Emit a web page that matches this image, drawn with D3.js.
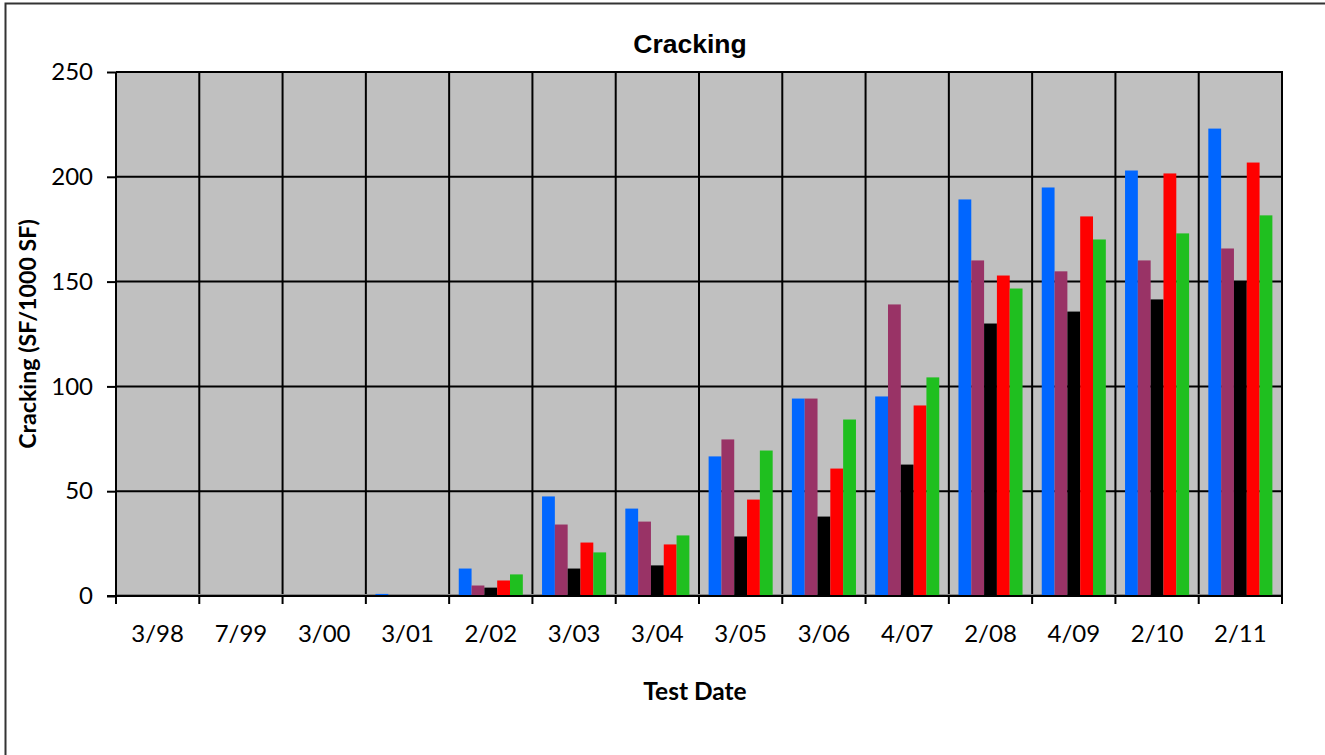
<!DOCTYPE html>
<html>
<head>
<meta charset="utf-8">
<script src="https://cdn.jsdelivr.net/npm/d3@7"></script>
<style>
  html, body { margin: 0; padding: 0; background: #fff; }
  svg { display: block; }
</style>
</head>
<body>
<script>
// ---- data ----
const categories = ["3/98", "7/99", "3/00", "3/01", "2/02", "3/03", "3/04", "3/05", "3/06", "4/07", "2/08", "4/09", "2/10", "2/11"];
const seriesNames = ["Series 1", "Series 2", "Series 3", "Series 4", "Series 5"];
const series1 = [0, 0, 0, 1.0, 13.1, 47.5, 41.7, 66.6, 94.2, 95.2, 189.2, 194.9, 203.0, 223.0];
const series2 = [0, 0, 0, 0, 5.0, 34.1, 35.5, 74.7, 94.2, 139.1, 160.1, 154.9, 160.1, 165.8];
const series3 = [0, 0, 0, 0, 4.0, 13.1, 14.6, 28.4, 37.9, 62.7, 130.0, 135.7, 141.5, 150.0];
const series4 = [0, 0, 0, 0, 7.4, 25.5, 24.6, 46.0, 60.8, 90.9, 152.9, 181.1, 201.6, 206.8];
const series5 = [0, 0, 0, 0, 10.3, 20.8, 28.9, 69.4, 84.2, 104.3, 146.7, 170.1, 173.0, 181.6];
const yTicks = [0, 50, 100, 150, 200, 250];
const colors = ["#0066FF", "#993366", "#000000", "#FF0000", "#1FBF1F"];
const chartTitle = "Cracking";
const xTitle = "Test Date";
const yTitle = "Cracking (SF/1000 SF)";

const allSeries = [series1, series2, series3, series4, series5];

// ---- layout ----
const W = 1325, H = 755;
const plot = { left: 116, right: 1282, top: 72, bottom: 596 };

const svg = d3.select("body").append("svg").attr("width", W).attr("height", H);

// outer chart border
svg.append("rect")
  .attr("x", 5.5).attr("y", 3.5)
  .attr("width", W + 20).attr("height", H + 20)
  .attr("fill", "#fff").attr("stroke", "#333").attr("stroke-width", 2);

const x = d3.scaleBand().domain(categories).range([plot.left, plot.right]).paddingInner(0).paddingOuter(0);
const xs = d3.scaleBand().domain(seriesNames).range([0, x.bandwidth()]).paddingInner(0).paddingOuter(0.75);
const y = d3.scaleLinear().domain([0, 250]).range([plot.bottom, plot.top]);

// plot background
svg.append("rect")
  .attr("x", plot.left).attr("y", plot.top)
  .attr("width", plot.right - plot.left).attr("height", plot.bottom - plot.top)
  .attr("fill", "#C0C0C0");

// horizontal gridlines
svg.append("g").selectAll("line").data(yTicks.filter(d => d > 0)).join("line")
  .attr("x1", plot.left).attr("x2", plot.right)
  .attr("y1", d => y(d)).attr("y2", d => y(d))
  .attr("stroke", "#000").attr("stroke-width", 2);

// vertical gridlines (category boundaries)
const bounds = categories.map(c => x(c)).concat([plot.right]);
svg.append("g").selectAll("line").data(bounds).join("line")
  .attr("x1", d => d).attr("x2", d => d)
  .attr("y1", plot.top).attr("y2", plot.bottom)
  .attr("stroke", "#000").attr("stroke-width", 2);

// thin gray line just above axis
svg.append("line")
  .attr("x1", plot.left).attr("x2", plot.right)
  .attr("y1", plot.bottom - 1.5).attr("y2", plot.bottom - 1.5)
  .attr("stroke", "#888").attr("stroke-width", 1);

// bars
const gBars = svg.append("g");
allSeries.forEach((vals, si) => {
  gBars.append("g").selectAll("rect").data(vals).join("rect")
    .attr("x", (d, i) => x(categories[i]) + xs(seriesNames[si]))
    .attr("width", xs.bandwidth())
    .attr("y", d => y(d))
    .attr("height", d => y(0) - y(d))
    .attr("fill", colors[si]);
});

// y axis
const yAxis = d3.axisLeft(y).tickValues(yTicks).tickSize(9).tickPadding(14);
const gy = svg.append("g").attr("transform", `translate(${plot.left},0)`).call(yAxis);
gy.select(".domain").attr("stroke", "#000").attr("stroke-width", 2).attr("d", `M0,${plot.bottom}V${plot.top}`);
gy.selectAll(".tick line").attr("stroke", "#000").attr("stroke-width", 2);
gy.selectAll(".tick text").attr("font-family", "Lato, sans-serif").attr("font-size", 24).attr("fill", "#000");

// x axis: ticks at category boundaries
const gx = svg.append("g").attr("transform", `translate(0,${plot.bottom})`);
gx.append("line").attr("x1", plot.left - 9).attr("x2", plot.right + 1)
  .attr("y1", 0).attr("y2", 0).attr("stroke", "#000").attr("stroke-width", 2);
gx.selectAll("line.tk").data(bounds).join("line").attr("class", "tk")
  .attr("x1", d => d).attr("x2", d => d).attr("y1", 0).attr("y2", 8)
  .attr("stroke", "#000").attr("stroke-width", 2);
const xAxis = d3.axisBottom(x).tickSize(0).tickPadding(29);
const gxl = svg.append("g").attr("transform", `translate(0,${plot.bottom})`).call(xAxis);
gxl.select(".domain").remove();
gxl.selectAll(".tick text").attr("font-family", "Lato, sans-serif").attr("font-size", 24).attr("fill", "#000");

// plot top & right border
svg.append("path")
  .attr("d", `M${plot.left},${plot.top}H${plot.right}V${plot.bottom}`)
  .attr("fill", "none").attr("stroke", "#000").attr("stroke-width", 2);

// titles
svg.append("text").attr("x", 690).attr("y", 53)
  .attr("text-anchor", "middle").attr("font-family", "'Liberation Sans', Arial, sans-serif")
  .attr("font-weight", "bold").attr("font-size", 26.5).text(chartTitle);

svg.append("text").attr("x", 695).attr("y", 700)
  .attr("text-anchor", "middle").attr("font-family", "Lato, sans-serif")
  .attr("font-weight", "bold").attr("font-size", 24.5).text(xTitle);

svg.append("text")
  .attr("transform", `translate(36,${(plot.top + plot.bottom) / 2}) rotate(-90)`)
  .attr("text-anchor", "middle").attr("font-family", "Lato, sans-serif")
  .attr("font-weight", "bold").attr("font-size", 23.2).text(yTitle);
</script>
</body>
</html>
